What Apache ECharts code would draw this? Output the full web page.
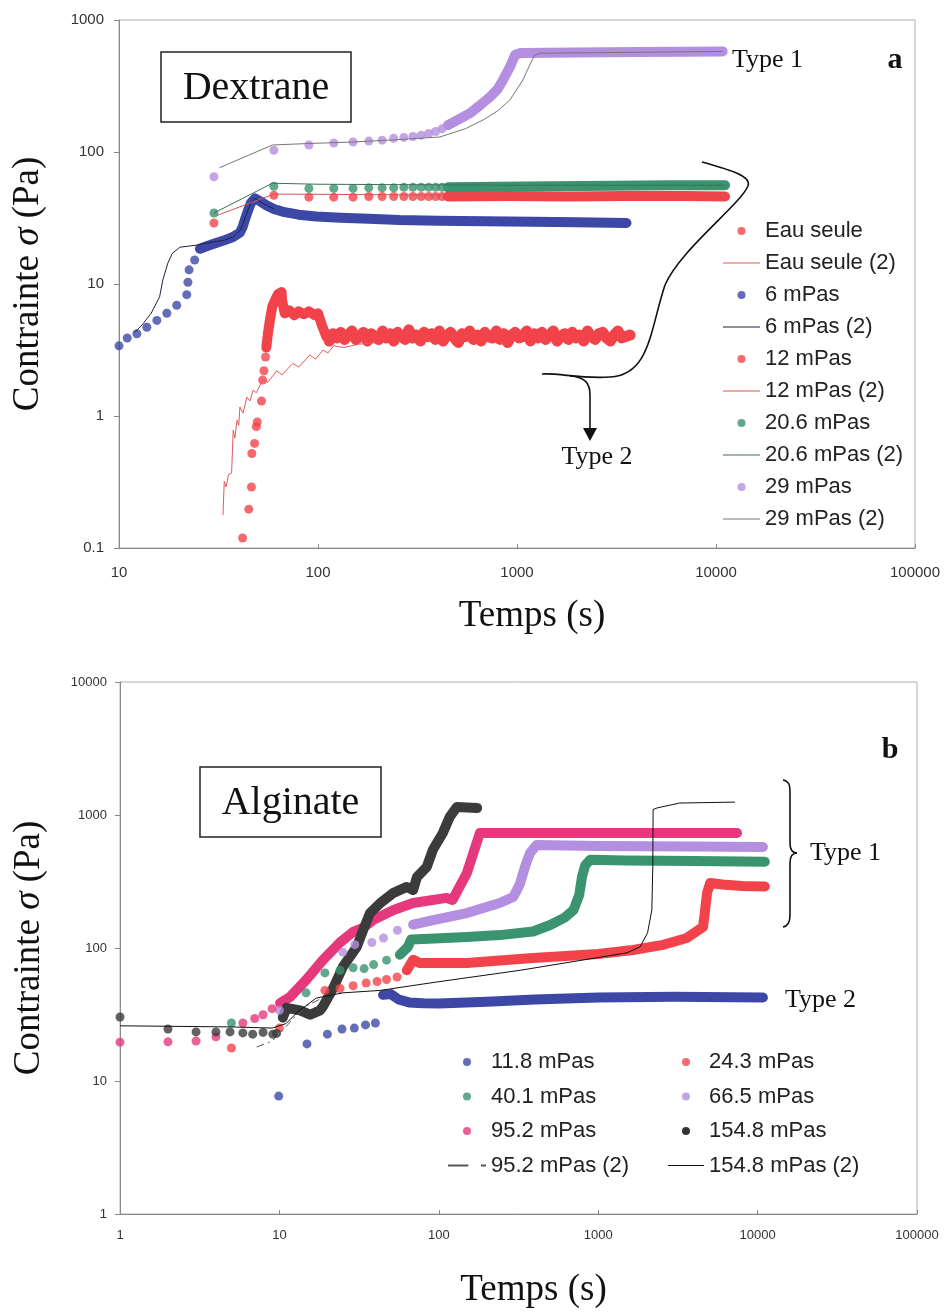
<!DOCTYPE html>
<html>
<head>
<meta charset="utf-8">
<title>Contrainte vs Temps</title>
<script src="https://cdn.jsdelivr.net/npm/echarts@6/dist/echarts.min.js"></script>
<style>
  html, body { margin: 0; padding: 0; background: #fff; }
  #chart { width: 947px; height: 1316px; }
</style>
</head>
<body>
<div id="chart"></div>
<script>
// ---- (a) Dextrane : [temps (s), contrainte (Pa)] ----
const eauDots = [[41.8,0.119],[44.9,0.197],[46.3,0.29],[46.5,0.52],[48,0.62],[49,0.83],[49.5,0.9],[52,1.3],[52.7,1.87],[53.5,2.2],[54.5,2.8]];
const eauRise = [[55,3.3],[56,4.2],[57.5,5.5],[59,6.8],[61,7.6],[63,8.4],[65.6,8.7],[66,7.5],[68,6.0],[72,6.3],[76,5.8],[80,6.2],[85,5.9],[90,6.2],[96,5.8],[100,6.0],[104,5.0],[110,4.0],[114,3.8]];
const eauNoise = [[114,3.7],[119,4.2],[124,3.9],[130,4.3],[136,3.8],[142,4.1],[148,4.4],[155,3.8],[162,4.0],[169,4.3],
  [177,3.7],[185,4.2],[193,4.0],[202,3.8],[211,4.4],[220,3.9],[230,4.2],[240,3.7],[251,4.3],[262,4.0],
  [274,3.8],[286,4.5],[299,3.9],[313,4.1],[327,3.7],[341,4.3],[357,4.0],[373,4.2],[389,3.8],[407,4.4],
  [425,3.7],[444,4.1],[464,4.3],[485,3.9],[507,3.6],[530,4.2],[553,4.0],[578,4.4],[604,3.8],[631,4.1],
  [660,3.7],[689,4.3],[720,4.0],[753,3.9],[787,4.4],[822,3.8],[859,4.2],[898,3.6],[938,4.1],[980,4.3],
  [1024,3.9],[1070,4.0],[1118,4.4],[1169,3.7],[1221,4.2],[1276,3.9],[1333,4.3],[1393,3.8],[1456,4.1],[1522,4.4],
  [1590,3.7],[1662,4.0],[1736,4.2],[1814,3.8],[1896,4.3],[1981,3.9],[2070,4.1],[2163,3.7],[2261,4.4],[2362,4.0],
  [2469,3.8],[2580,4.2],[2696,4.3],[2817,3.9],[2944,3.7],[3076,4.1],[3215,4.4],[3359,3.9],[3510,4.0],[3700,4.1]];
const eau2 = [[33.3,0.178],[33.8,0.32],[34.5,0.29],[35.5,0.36],[36.8,0.37],[37.5,0.78],[38.2,0.68],[39.2,0.93],[40,0.85],[40.5,1.17],[42,1.05],[43.9,1.39],[45.5,1.3],[47.2,1.57],[49,1.5],[52.8,1.87],[56,1.8],[62,2.2],[66,2.05],[74.6,2.5],[80,2.35],[91,2.9],[97,2.7],[106,3.16],[112,3.0],[120,3.4],[135,3.3],[160,3.5],[200,3.6]];

const v6Dots = [[10,3.4],[11,3.9],[12.3,4.2],[13.8,4.7],[15.5,5.3],[17.4,6.0],[19.5,6.9],[21.9,8.3],[22.2,10.3],[22.5,12.8],[24,15.2]];
const v6Band = [[25.5,18.5],[28,19.5],[31,20.5],[34,21.5],[37.4,22.7],[40.5,24.5],[41.8,27],[43,31],[44.5,36],[46,41],[48.2,44.5],[51,42.5],[55,39.5],[60,37],[68,35],[80,33.5],[98,32.5],[130,31.8],[180,31.2],[257,30.5],[400,30.2],[700,29.9],[1200,29.6],[2000,29.3],[3550,29]];
const v6Line = [[12,4.3],[13.2,5.0],[14.5,6.0],[16,8.0],[16.6,10.7],[17.6,14.4],[18.5,17],[20.2,19],[24.6,19.7],[28,20.5],[34,21.5],[37.4,22.7],[41,26],[44,35],[46,41],[48.2,44.5],[55,39.5],[60,37]];

const v12Dots = [[30,29],[60,47],[90,45.5],[120,45.5],[150,45.5],[180,46],[210,46],[240,46],[270,46],[300,46],[330,46],[360,46],[390,46],[420,46],[450,46]];
const v12Band = [[450,46],[900,46.5],[1800,46],[3500,46.5],[7000,46.5],[11100,46]];
const v12Line = [[31,33],[60,48],[200,47.5],[1000,47],[11000,47]];

const v20Dots = [[30,34.5],[60,55],[90,53],[120,53],[150,53],[180,53.5],[210,53.5],[240,53.5],[270,54],[300,54],[330,54],[360,54],[390,54],[420,54],[450,54]];
const v20Band = [[450,54],[800,54.5],[1500,55],[3000,55.5],[6000,56],[11100,56]];
const v20Line = [[30,34.5],[59,58],[100,57],[300,56.5],[1000,56],[11000,56]];

const v29Dots = [[30,65],[60,103],[90,113],[120,117],[150,119],[180,121],[210,123],[240,127],[270,129],[300,131],[330,134],[360,138],[390,143],[420,150],[450,160]];
const v29Band = [[450,160],[520,180],[581,197],[650,225],[731,261],[800,300],[851,351],[890,400],[922,441],[950,490],[978,543],[1035,562],[2000,567],[4000,572],[7000,575],[10800,578]];
const v29Line = [[32,76],[59,113],[90,116],[150,119],[250,124],[410,130],[550,150],[676,175],[800,205],[922,248],[1000,300],[1070,351],[1130,420],[1190,497],[1230,543],[1300,560],[3000,567],[10800,578]];

// ---- (b) Alginate ----
const a11Dots = [[9.9,7.7],[14.9,19],[20,22.5],[24.7,24.6],[29.5,25],[34.7,26.4],[40,27.3]];
const a11Band = [[44.7,44.4],[50,45],[56,41],[65,39],[80,38.5],[100,38.3],[200,39.5],[400,41],[1000,42.5],[3000,43],[10800,42.5]];

const a24Dots = [[5,17.7],[10,25],[19.3,48],[24,49.6],[29,52],[35,54.6],[41,56],[47,58],[54.7,60.5]];
const a24Band = [[63,68],[69,81.5],[76,77],[100,77],[150,77],[390,84],[1000,90],[1650,96.6],[2500,105],[3600,119],[4550,144],[4700,200],[4820,260],[5040,308],[6000,300],[8000,292],[11100,290]];

const a40Dots = [[5,27.3],[14.7,46],[19.3,65],[24,68],[29,71],[34,70],[39,75],[47,81]];
const a40Band = [[57,89],[64,102],[67,116],[80,117],[150,121],[241,125],[390,133],[500,149],[620,170],[700,193],[760,250],[791,342],[830,420],[890,460],[1500,455],[4000,450],[11100,445]];

const a66Dots = [[10,34],[25,93],[29.7,106],[38,110],[45,119],[55,136]];
const a66Band = [[69,150],[92,162],[150,183],[241,218],[293,242],[310,275],[324,308],[350,420],[373,517],[410,594],[1000,585],[4000,580],[10800,575]];

const a95Dots = [[1,19.6],[2,19.7],[3,20],[4,21.5],[5.9,27.3],[7,29.5],[7.9,31.5],[9,35]];
const a95Band = [[10.1,38.5],[11.7,43],[14.8,58],[18.7,81],[24,110],[29,132],[33.5,142],[39,163],[52,193],[69,218],[112,238],[122,230],[150,366],[181,733],[500,733],[2000,733],[7430,733]];
const a95Line = [[7.2,18],[9,20],[10.5,24],[12.2,29.5],[15,37],[20,44]];

const a154Dots = [[1,30.3],[2,24.6],[3,23.4],[4,23.4],[4.9,23.4],[5.9,23],[6.8,22.5],[7.9,23.2],[9.1,22.5],[9.6,22.8]];
const a154Band = [[10.5,30],[11.1,35.5],[13.5,34],[15.6,31.5],[18,34],[18.8,36.5],[21.7,49.6],[25,72],[30.6,102],[33.5,136],[37,183],[43,218],[52,260],[63,288],[69,273],[73,342],[84,407],[92,550],[106,733],[117,966],[130,1150],[150,1140],[174,1130]];
const a154Line = [[1,26],[5,25.5],[9,25],[11,27],[13,33],[17,42],[25,46],[43,48],[92,55],[324,68],[1515,92],[1830,102],[2040,130],[2170,193],[2200,407],[2210,1100],[2340,1130],[3240,1230],[7210,1250]];

const RED = '#f2434b', BLUE = '#3d48a6', GREEN = '#3a9470', PURPLE = '#b48ee0', PINK = '#e6387c', DARK = '#3b3b3b';
const LINE_ICON = 'path://M0,0H40V1.2H0Z';
const DASH_ICON = 'path://M0,0H16V1.4H0Z M26,0H30V1.4H26Z';

function dots(name, data, color, g, size) {
  return { type: 'scatter', name, data, xAxisIndex: g, yAxisIndex: g, symbolSize: size || 9,
    itemStyle: { color }, z: 2 };
}
function band(name, data, color, g, w) {
  return { type: 'line', name, data, xAxisIndex: g, yAxisIndex: g, symbol: 'none',
    itemStyle: { color }, lineStyle: { color, width: w || 10, cap: 'round', join: 'round' }, z: 2 };
}
function thin(name, data, color, g, dash) {
  return { type: 'line', name, data, xAxisIndex: g, yAxisIndex: g, symbol: 'none',
    itemStyle: { color }, lineStyle: { color, width: 1, type: dash || 'solid' }, z: 4 };
}

const fmt = v => String(Number(v.toPrecision(6)));
const serif = '"Liberation Serif", "Times New Roman", serif';
const sans = '"Liberation Sans", Arial, sans-serif';
const yName = '{n|Contrainte }{s|σ}{n| (Pa)}';
const yRich = { n: { fontFamily: serif, fontSize: 37, color: '#111' }, s: { fontFamily: serif, fontStyle: 'italic', fontSize: 37, color: '#111' } };

function xAxis(g, min, fs, margin, gap) {
  return { type: 'log', logBase: 10, gridIndex: g, min, max: 100000,
    axisLine: { lineStyle: { color: '#888' } },
    axisTick: { inside: true, length: 4, lineStyle: { color: '#888' } },
    axisLabel: { formatter: fmt, color: '#333', fontSize: fs, fontFamily: sans, margin },
    splitLine: { show: false },
    name: 'Temps (s)', nameLocation: 'middle', nameGap: gap,
    nameTextStyle: { fontFamily: serif, fontSize: 37, color: '#111', padding: [0, 0, 0, 30] } };
}
function yAxis(g, min, max, fs, margin) {
  return { type: 'log', logBase: 10, gridIndex: g, min, max,
    axisLine: { lineStyle: { color: '#888' } },
    axisTick: { length: 5, lineStyle: { color: '#888' } },
    axisLabel: { formatter: fmt, color: '#333', fontSize: fs, fontFamily: sans, margin },
    splitLine: { show: false },
    name: yName, nameLocation: 'middle', nameGap: 72, nameTextStyle: { rich: yRich } };
}

function bez(x1, y1, cpx1, cpy1, cpx2, cpy2, x2, y2) {
  return { type: 'bezierCurve', shape: { x1, y1, cpx1, cpy1, cpx2, cpy2, x2, y2 },
    style: { stroke: '#111', lineWidth: 1.6, fill: null } };
}
function seg(x1, y1, x2, y2) {
  return { type: 'line', shape: { x1, y1, x2, y2 }, style: { stroke: '#111', lineWidth: 1.6 } };
}
function label(text, x, y, size, align, bold) {
  return { type: 'text', style: { text, x, y, font: (bold ? 'bold ' : '') + size + 'px ' + serif,
    fill: '#111', textAlign: align, textVerticalAlign: 'middle' }, z: 10 };
}
function box(x, y, w, h, text) {
  return [
    { type: 'rect', shape: { x, y, width: w, height: h }, style: { fill: '#fff', stroke: '#222', lineWidth: 1.5 }, z: 9 },
    label(text, x + w / 2, y + h / 2 + 1, 40, 'center')
  ];
}
const legendText = { fontSize: 22, fontFamily: sans, color: '#222' };

const chart = echarts.init(document.getElementById('chart'));
chart.setOption({
  animation: false,
  backgroundColor: '#fff',
  grid: [
    { left: 119, top: 20, width: 796, height: 528, show: true, borderColor: '#b0b0b0', borderWidth: 1 },
    { left: 120, top: 682, width: 797, height: 532, show: true, borderColor: '#b0b0b0', borderWidth: 1 }
  ],
  xAxis: [xAxis(0, 10, 15, 17, 50), xAxis(1, 1, 13, 15, 58)],
  yAxis: [yAxis(0, 0.1, 1000, 15, 15), yAxis(1, 1, 10000, 13, 13)],
  legend: [
    { orient: 'vertical', left: 718, top: 215, itemWidth: 37, itemHeight: 8, itemGap: 10, selectedMode: false,
      textStyle: legendText,
      data: [
        { name: 'Eau seule', icon: 'circle' }, { name: 'Eau seule (2)', icon: LINE_ICON },
        { name: '6 mPas', icon: 'circle' }, { name: '6 mPas (2)', icon: LINE_ICON },
        { name: '12 mPas', icon: 'circle' }, { name: '12 mPas (2)', icon: LINE_ICON },
        { name: '20.6 mPas', icon: 'circle' }, { name: '20.6 mPas (2)', icon: LINE_ICON },
        { name: '29 mPas', icon: 'circle' }, { name: '29 mPas (2)', icon: LINE_ICON }
      ] },
    { orient: 'vertical', left: 443, top: 1046, itemWidth: 38, itemHeight: 8, itemGap: 12.5, selectedMode: false,
      textStyle: legendText,
      data: [
        { name: '11.8 mPas', icon: 'circle' }, { name: '40.1 mPas', icon: 'circle' },
        { name: '95.2 mPas', icon: 'circle' }, { name: '95.2 mPas (2)', icon: DASH_ICON }
      ] },
    { orient: 'vertical', left: 663, top: 1046, itemWidth: 36, itemHeight: 8, itemGap: 12.5, selectedMode: false,
      textStyle: legendText,
      data: [
        { name: '24.3 mPas', icon: 'circle' }, { name: '66.5 mPas', icon: 'circle' },
        { name: '154.8 mPas', icon: 'circle', itemStyle: { color: '#000' } }, { name: '154.8 mPas (2)', icon: LINE_ICON }
      ] }
  ],
  series: [
    // dextrane
    dots('Eau seule', eauDots, RED, 0), band('Eau seule', eauRise, RED, 0), band('Eau seule', eauNoise, RED, 0, 11),
    thin('Eau seule (2)', eau2, '#e45a5a', 0),
    dots('6 mPas', v6Dots, BLUE, 0), band('6 mPas', v6Band, BLUE, 0), thin('6 mPas (2)', v6Line, '#1f2340', 0),
    dots('12 mPas', v12Dots, RED, 0), band('12 mPas', v12Band, RED, 0), thin('12 mPas (2)', v12Line, '#d9534f', 0),
    dots('20.6 mPas', v20Dots, GREEN, 0), band('20.6 mPas', v20Band, GREEN, 0), thin('20.6 mPas (2)', v20Line, '#3f6f5a', 0),
    dots('29 mPas', v29Dots, PURPLE, 0), band('29 mPas', v29Band, PURPLE, 0), thin('29 mPas (2)', v29Line, '#777777', 0),
    // alginate
    dots('11.8 mPas', a11Dots, BLUE, 1), band('11.8 mPas', a11Band, BLUE, 1),
    dots('24.3 mPas', a24Dots, RED, 1), band('24.3 mPas', a24Band, RED, 1),
    dots('40.1 mPas', a40Dots, GREEN, 1), band('40.1 mPas', a40Band, GREEN, 1),
    dots('66.5 mPas', a66Dots, PURPLE, 1), band('66.5 mPas', a66Band, PURPLE, 1),
    dots('95.2 mPas', a95Dots, PINK, 1), band('95.2 mPas', a95Band, PINK, 1),
    dots('154.8 mPas', a154Dots, DARK, 1), band('154.8 mPas', a154Band, DARK, 1),
    thin('95.2 mPas (2)', a95Line, '#555555', 1, [8, 4, 2, 4]),
    thin('154.8 mPas (2)', a154Line, '#111111', 1)
  ],
  graphic: [
    ...box(161, 52, 190, 70, 'Dextrane'),
    ...box(200, 767, 181, 70, 'Alginate'),
    label('Type 1', 732, 60, 26, 'left'),
    label('a', 895, 60, 30, 'center', true),
    label('Type 2', 597, 457, 26, 'center'),
    // bracket + arrow (a)
    bez(702, 162, 730, 170, 752, 176, 748, 186),
    bez(748, 186, 740, 205, 680, 250, 665, 285),
    bez(665, 285, 650, 330, 650, 375, 610, 377),
    bez(610, 377, 580, 379, 560, 373, 542, 374),
    bez(570, 376, 585, 377, 590, 383, 590, 395),
    seg(590, 395, 590, 430),
    { type: 'polygon', shape: { points: [[583, 428], [597, 428], [590, 441]] }, style: { fill: '#111' } },
    // brace (b)
    label('b', 890, 750, 30, 'center', true),
    label('Type 1', 810, 853, 26, 'left'),
    label('Type 2', 785, 1000, 26, 'left'),
    bez(783, 780, 789, 781, 790, 785, 790, 792),
    seg(790, 792, 790, 843),
    bez(790, 843, 790, 850, 793, 853, 797, 853),
    bez(797, 853, 793, 853, 790, 856, 790, 863),
    seg(790, 863, 790, 915),
    bez(790, 915, 790, 921, 789, 926, 783, 927)
  ]
});
</script>
</body>
</html>
